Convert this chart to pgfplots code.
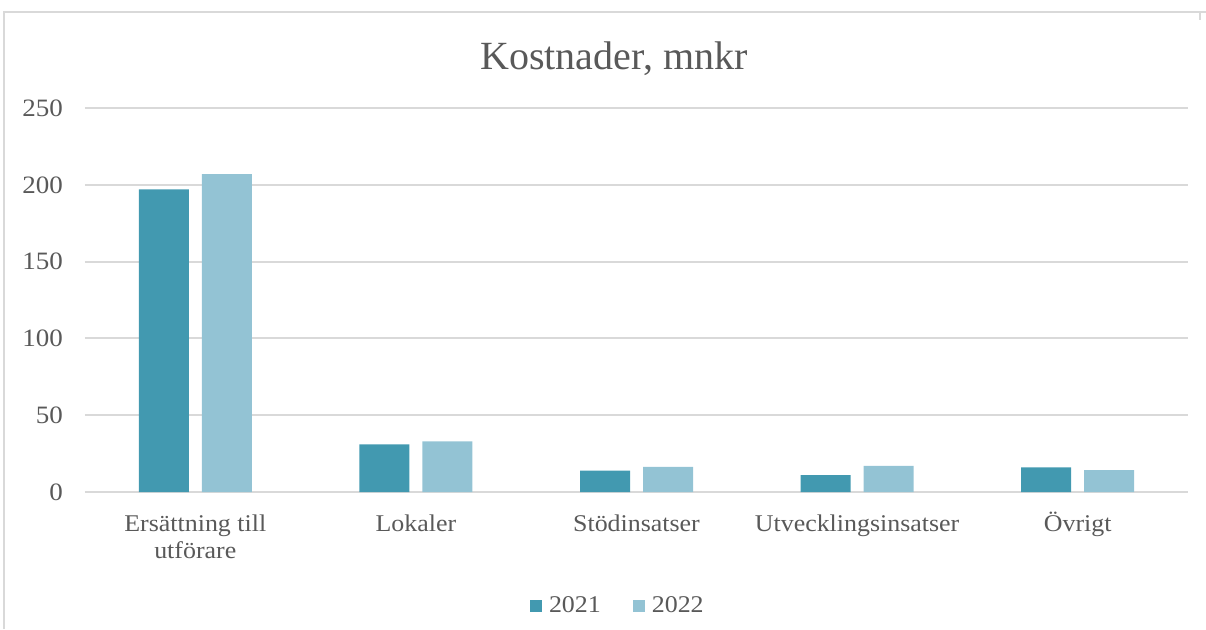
\documentclass[border=0pt]{standalone}
\usepackage{pgfplots}
\pgfplotsset{compat=1.18}
\usepackage{fontspec}
\setmainfont{Liberation Serif}
\newfontfamily\wide[FakeStretch=1.08]{Liberation Serif}
\definecolor{c2021}{HTML}{4299B0}
\definecolor{c2022}{HTML}{93C3D4}
\definecolor{txt}{HTML}{595959}
\definecolor{gridc}{HTML}{D9D9D9}
\begin{document}
\begin{tikzpicture}
\path[use as bounding box] (-42.5pt,-68.5pt) rectangle (560.5pt,246pt);
\draw[gridc, line width=1pt] (-40.5pt,-68.5pt) -- (-40.5pt,240pt) -- (560.5pt,240pt);
\draw[gridc, line width=1pt] (557.5pt,240pt) -- (557.5pt,236pt);
\begin{axis}[
  at={(0,0)}, anchor=south west,
  scale only axis, width=551.5pt, height=192pt,
  xmin=-0.5, xmax=4.5, ymin=0, ymax=250,
  ytick={0,50,100,150,200,250},
  xtick={0,1,2,3,4},
  xticklabels={{Ersättning till\\utförare},Lokaler,Stödinsatser,Utvecklingsinsatser,Övrigt},
  xticklabel style={align=center, font=\wide\fontsize{12}{13.8}\selectfont, text=txt, yshift=-6.5pt},
  typeset ticklabels with strut,
  yticklabel style={font=\wide\fontsize{12.5}{14}\selectfont, text=txt, xshift=-7.5pt, yshift=-1.3pt},
  /pgf/number format/assume math mode=true,
  major tick length=0pt,
  axis line style={draw=none},
  ymajorgrids, xmajorgrids=false, grid style={gridc, line width=1pt},
  ybar, bar width=25pt,
  title={Kostnader, mnkr},
  title style={font=\fontsize{20}{24}\selectfont, text=txt, at={(264.5pt,210.5pt)}, anchor=center},
  legend columns=2,
  legend style={at={(0.484,-0.298)}, anchor=center, draw=none, font=\wide\fontsize{12}{14}\selectfont, text=txt,
    /tikz/every even column/.append style={column sep=14pt},
    /tikz/every odd column/.append style={column sep=1.5pt}},
  legend image code/.code={\fill[#1] (0pt,-3pt) rectangle (6pt,3pt);},
]
\addplot[fill=c2021, draw=none, bar shift=-15.75pt] coordinates {(0,197) (1,31) (2,14) (3,11) (4,16)};
\addplot[fill=c2022, draw=none, bar shift=15.75pt] coordinates {(0,207) (1,33) (2,16.3) (3,17) (4,14.3)};
\legend{2021,2022}
\end{axis}
\end{tikzpicture}
\end{document}
